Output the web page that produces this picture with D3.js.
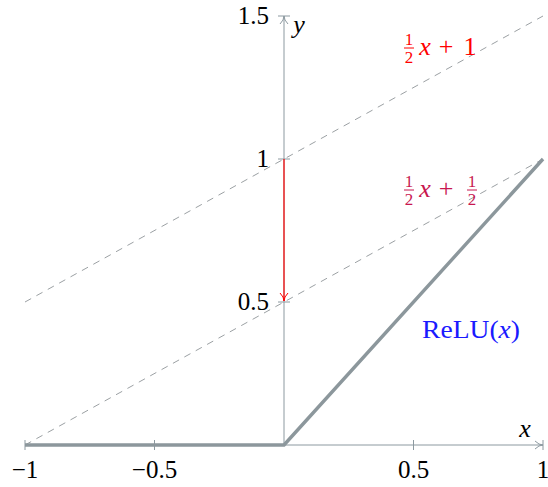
<!DOCTYPE html>
<html lang="en">
  <head>
    <meta charset="utf-8">
    <title>ReLU</title>
    <script src="https://d3js.org/d3.v7.min.js"></script>
    <style>
      body { margin: 0; background: #fff; }
      text { font-family: "Liberation Serif", "DejaVu Serif", serif; }
    </style>
  </head>
  <body>
    <script type="text/javascript">

      var w = 548;
      var h = 487;

      var xTicks = [-1, -0.5, 0.5, 1];
      var xTickLabels = ["\u22121", "\u22120.5", "0.5", "1"];
      var yTicks = [0.5, 1, 1.5];
      var yTickLabels = ["0.5", "1", "1.5"];

      var reluX = [-1, 0, 1];
      var reluY = [0, 0, 1];
      var line1X = [-1, 1];   // 1/2 x + 1
      var line1Y = [0.5, 1.5];
      var line2X = [-1, 1];   // 1/2 x + 1/2
      var line2Y = [0, 1];
      var gapX = [0, 0];
      var gapY = [1, 0.5];

      var axisCol = "#8c99a0";

      var svg = d3.select("body").append("svg")
        .attr("width", w).attr("height", h);

      var x = d3.scaleLinear().domain([-1, 1]).range([25, 543]);
      var y = d3.scaleLinear().domain([0, 1.5]).range([445, 16]);

      var defs = svg.append("defs");
      [["arrGray", axisCol], ["arrRed", "red"]].forEach(function (m) {
        defs.append("marker").attr("id", m[0])
          .attr("viewBox", "0 0 10 10").attr("refX", 9).attr("refY", 5)
          .attr("markerWidth", 10).attr("markerHeight", 10)
          .attr("markerUnits", "userSpaceOnUse").attr("orient", "auto")
          .append("path").attr("d", "M1,1 Q5,5 9,5 Q5,5 1,9")
          .attr("fill", "none").attr("stroke", m[1]).attr("stroke-width", 1);
      });

      var mk = (xs, ys) => xs.map((d, i) => [d, ys[i]]);
      var lineGen = d3.line().x(d => x(d[0])).y(d => y(d[1]));

      // dashed helper lines
      [mk(line1X, line1Y), mk(line2X, line2Y)].forEach(function (pts) {
        svg.append("path").attr("d", lineGen(pts))
          .attr("fill", "none").attr("stroke", "#909598")
          .attr("stroke-width", 0.9).attr("stroke-dasharray", "7,6");
      });

      // axes
      svg.append("line")
        .attr("x1", x(-1)).attr("x2", x(1))
        .attr("y1", y(0)).attr("y2", y(0))
        .attr("stroke", axisCol).attr("stroke-width", 1)
        .attr("marker-end", "url(#arrGray)");
      svg.append("line")
        .attr("x1", x(0)).attr("x2", x(0))
        .attr("y1", y(0)).attr("y2", y(1.5))
        .attr("stroke", axisCol).attr("stroke-width", 1)
        .attr("marker-end", "url(#arrGray)");

      svg.selectAll(".xt").data(xTicks).enter().append("line")
        .attr("x1", d => x(d)).attr("x2", d => x(d))
        .attr("y1", y(0) - 5).attr("y2", y(0) + 5)
        .attr("stroke", axisCol).attr("stroke-width", 1);
      svg.selectAll(".yt").data(yTicks).enter().append("line")
        .attr("x1", x(0) - 6).attr("x2", x(0) + 6)
        .attr("y1", d => y(d)).attr("y2", d => y(d))
        .attr("stroke", axisCol).attr("stroke-width", 1);

      svg.selectAll(".xl").data(xTicks).enter().append("text")
        .attr("x", d => x(d)).attr("y", y(0) + 33)
        .attr("text-anchor", "middle").attr("font-size", 25)
        .text((d, i) => xTickLabels[i]);
      svg.selectAll(".yl").data(yTicks).enter().append("text")
        .attr("x", x(0) - 15).attr("y", d => y(d) + 8)
        .attr("text-anchor", "end").attr("font-size", 25)
        .text((d, i) => yTickLabels[i]);

      svg.append("text").attr("x", x(1) - 18).attr("y", y(0) - 8)
        .attr("text-anchor", "middle").attr("font-size", 26)
        .attr("font-style", "italic").text("x");
      svg.append("text").attr("x", x(0) + 15).attr("y", y(1.5) + 17)
        .attr("text-anchor", "middle").attr("font-size", 26)
        .attr("font-style", "italic").text("y");

      // relu
      svg.append("path").attr("d", lineGen(mk(reluX, reluY)))
        .attr("fill", "none").attr("stroke", "#8c979c")
        .attr("stroke-width", 3.4).attr("stroke-linejoin", "round");

      // red gap arrow
      svg.append("line")
        .attr("x1", x(gapX[0])).attr("x2", x(gapX[1]))
        .attr("y1", y(gapY[0])).attr("y2", y(gapY[1]) - 1)
        .attr("stroke", "red").attr("stroke-width", 1.2)
        .attr("marker-end", "url(#arrRed)");

      // labels
      function frac(g, cx, baseY, col) {
        g.append("text").attr("x", cx).attr("y", baseY - 10)
          .attr("text-anchor", "middle").attr("font-size", 17).text("1");
        g.append("line").attr("x1", cx - 5).attr("x2", cx + 5)
          .attr("y1", baseY - 7).attr("y2", baseY - 7)
          .attr("stroke", col).attr("stroke-width", 1);
        g.append("text").attr("x", cx).attr("y", baseY + 8)
          .attr("text-anchor", "middle").attr("font-size", 17).text("2");
      }
      function piece(g, px, baseY, txt, italic) {
        g.append("text").attr("x", px).attr("y", baseY)
          .attr("text-anchor", "middle").attr("font-size", 26)
          .attr("font-style", italic ? "italic" : "normal").text(txt);
      }

      var c1 = "#ff0000";
      var g1 = svg.append("g").attr("fill", c1);
      frac(g1, 409, 55, c1);
      piece(g1, 425, 55, "x", true);
      piece(g1, 446, 55, "+", false);
      piece(g1, 470, 55, "1", false);

      var c2 = "#c8174f";
      var g2 = svg.append("g").attr("fill", c2);
      frac(g2, 409, 197, c2);
      piece(g2, 425, 197, "x", true);
      piece(g2, 446, 197, "+", false);
      frac(g2, 472, 197, c2);

      svg.append("text").attr("x", 422).attr("y", 338).attr("font-size", 25)
        .attr("fill", "#1a1aff")
        .attr("textLength", 98).attr("lengthAdjust", "spacingAndGlyphs")
        .html('ReLU(<tspan font-style="italic">x</tspan>)');

    </script>
  </body>
</html>
